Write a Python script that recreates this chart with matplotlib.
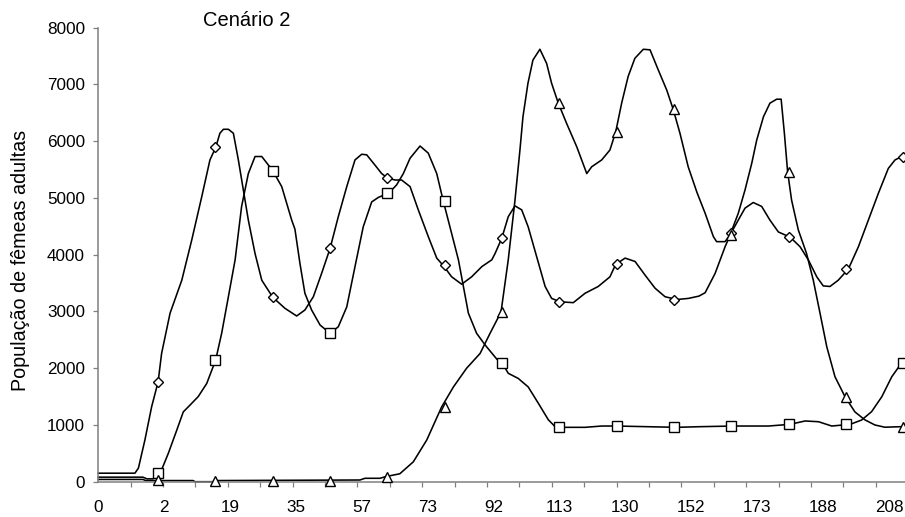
import matplotlib
matplotlib.use('Agg')
import matplotlib.pyplot as plt
import numpy as np

plt.rcParams['font.family'] = ['Liberation Sans', 'DejaVu Sans']

# ---- data (category position, population) ----
x_labels = ['0', '2', '19', '35', '57', '73', '92', '113', '130', '152', '173', '188', '208']

A_x = [0, 14.7, 16.1, 18.7, 21.4, 24, 25.4, 28.8, 33.5, 37.5, 41.5, 44.8, 47.1, 48.8, 50.2, 52.2, 54.2,
       56.2, 58.2, 60.2, 62.9, 65.6, 70, 74.9, 79.6, 82.9, 86.3, 89.6, 93, 96.3, 99.7, 103, 105.7, 107.7,
       111, 113.7, 116.1, 119.1, 121.7, 125.1, 128.4, 132.4, 135.8, 138.4, 141.8, 145.8, 149.8, 153.9,
       157.9, 159.2, 161.9, 164.5, 167.2, 169.9, 172.5, 175.9, 179.3, 181.9, 185.3, 190.6, 195.3, 200.6,
       205.3, 207.6, 211.4, 215.4, 219.4, 223.4, 227.4, 232.1, 236.8, 241, 243.5, 247.5, 251.5, 253.9,
       256.8, 259.5, 262.8, 266.2, 269.5, 272.9, 277.6, 281.6, 284.9, 288.3, 290.9, 293.6, 296.9, 301,
       305, 309, 313, 317, 319.7, 322.4, 323.7]
A_y = [150, 150, 240, 735, 1320, 1760, 2260, 2970, 3550, 4260, 5020, 5670, 5890, 6140, 6210, 6210, 6140,
       5670, 5140, 4610, 4020, 3550, 3250, 3055, 2920, 3025, 3260, 3670, 4110, 4670, 5200, 5670, 5770, 5760,
       5580, 5430, 5350, 5316, 5316, 5200, 4790, 4320, 3940, 3810, 3610, 3480, 3610, 3790,
       3910, 4020, 4290, 4670, 4860, 4790, 4490, 3965, 3440, 3230, 3170, 3155, 3320, 3440,
       3610, 3830, 3940, 3880, 3640, 3410, 3260, 3210, 3230, 3270, 3330, 3670, 4140, 4380,
       4610, 4820, 4920, 4850, 4610, 4400, 4310, 4140, 3910, 3610, 3450, 3440, 3550, 3750,
       4140, 4610, 5080, 5520, 5670, 5730, 5740]

B_x = [0, 17.9, 19.5, 22, 24, 25.4, 28.1, 31.5, 34.1, 36.8, 40.1, 43.5, 47.1, 49.5, 52.2, 54.9, 57.5,
       60.2, 62.9, 65.6, 70, 73.6, 77.6, 78.9, 80.9, 82.9, 85.6, 89, 93, 96.3, 99.7, 103, 106.3, 109.7,
       112.4, 116.7, 119.7, 122.4, 125.1, 129.1, 132.4, 135.8, 138.4, 141.1, 144.5, 146.5, 148.5, 151.8,
       155.2, 159.9, 162, 164.5, 168.5, 172.5, 176.6, 180.6, 183.3, 185.9, 195.3, 202, 208, 220.7, 232.1,
       241, 254.8, 268.9, 277.6, 283.6, 289, 294.3, 301.7, 306.3, 310.3, 314.4, 318.4, 322.4, 323.7]
B_y = [80, 80, 50, 50, 150, 210, 500, 910, 1230, 1350, 1500, 1730, 2145, 2615, 3260, 3910, 4850,
       5430, 5730, 5730, 5480, 5200, 4610, 4450, 3850, 3320, 3025, 2760, 2615, 2730, 3080, 3790, 4490, 4930,
       5010, 5090, 5230, 5430, 5700, 5915, 5790, 5430, 4950, 4490, 3910, 3440, 2970, 2615,
       2410, 2160, 2097, 1910, 1820, 1670, 1380, 1090, 970, 958, 958, 981, 981, 969, 958,
       969, 981, 981, 1011, 1070, 1057, 981, 1011, 1087, 1234, 1498, 1850, 2097, 2150]

C_x = [0, 17.9, 19, 38, 38.8, 46, 47.2, 105, 107, 113, 115.4, 121, 126.4, 131.8, 137.8, 142.5, 147.8,
       153.2, 157.2, 161.6, 164.5, 167.2, 169.2, 170.4, 172.4, 174.4, 177.2, 179.9, 181.9, 184.5, 187.9,
       192, 196, 198, 202, 205.3, 207.6, 210, 212.6, 215.3, 218.7, 221.4, 224.7, 228.1, 230.7, 233.4,
       236.7, 240.2, 243.5, 246.8, 248.1, 251.5, 253.5, 256.8, 259.5, 262.2, 264.2, 266.9, 269.5, 272.2,
       274, 275.3, 276.6, 278.2, 280.9, 284.2, 286.9, 289.6, 292.3, 295.6, 299.6, 303.6, 307.6, 311.6,
       315.6, 322.4, 323.7]
C_y = [40, 40, 20, 20, 0, 0, 20, 30, 60, 60, 90, 140, 350, 735, 1320, 1670, 2000,
       2260, 2615, 2990, 3910, 4960, 5850, 6430, 7020, 7430, 7620, 7370, 7020, 6680, 6315,
       5900, 5430, 5550, 5670, 5845, 6160, 6670, 7140, 7460, 7620, 7610, 7255, 6900, 6560, 6140,
       5550, 5100, 4730, 4320, 4230, 4230, 4350, 4730, 5140, 5610, 6020, 6430, 6670, 6740,
       6740, 6140, 5460, 4960, 4435, 4020, 3550, 2970, 2380, 1850, 1500, 1230, 1090, 1000,
       960, 970, 970]

mk_x = [24, 47, 70, 93, 116, 139, 162, 185, 208, 231, 254, 277, 300, 323]
A_mk = [1760, 5890, 3250, 4110, 5350, 3810, 4290, 3170, 3830, 3210, 4380, 4310, 3750, 5730]
B_mk = [150, 2145, 5480, 2615, 5090, 4950, 2097, 958, 981, 958, 981, 1011, 1011, 2097]
C_mk = [30, 20, 20, 20, 90, 1320, 2990, 6680, 6160, 6560, 4350, 5460, 1500, 970]

# ---- figure ----
W, H = 905, 517
fig = plt.figure(figsize=(W / 100, H / 100), dpi=100)
ax = fig.add_axes([98.3 / W, 1 - 481.7 / H, (W - 98.3) / W, (481.7 - 27.7) / H])

lw = 1.15
for xs, ys in [(A_x, A_y), (B_x, B_y), (C_x, C_y)]:
    ax.plot(xs, ys, color='black', lw=lw, clip_on=False, solid_joinstyle='round')

mkw = dict(ls='none', mfc='white', mec='black', mew=1.0, clip_on=False, zorder=3)
ax.plot(mk_x, A_mk, marker='D', ms=4.9, **mkw)
ax.plot(mk_x, B_mk, marker='s', ms=6.8, **mkw)
ax.plot(mk_x, C_mk, marker='^', ms=7.5, **mkw)

ax.set_xlim(0, 323.7)
ax.set_ylim(0, 8000)

ax.set_yticks(range(0, 8001, 1000))
ax.tick_params(axis='y', length=3.6, width=0.9, color='#808080', pad=6, labelsize=12.3)

ax.set_xticks(np.arange(len(x_labels)) * 26.44)
ax.set_xticklabels(x_labels)
ax.tick_params(axis='x', which='major', length=0, pad=13.5, labelsize=12.3)
ax.set_xticks(np.arange(0, 324, 13), minor=True)
ax.tick_params(axis='x', which='minor', length=3.3, width=0.9, color='#808080')

for s in ['top', 'right']:
    ax.spines[s].set_visible(False)
for s in ['left', 'bottom']:
    ax.spines[s].set_color('#808080')
    ax.spines[s].set_linewidth(1.1)

fig.text(203 / W, 1 - 20 / H, 'Cenário 2', fontsize=14.5, ha='left', va='center')
fig.text(21 / W, 1 - 260 / H, 'População de fêmeas adultas', rotation=90,
         fontsize=14.2, ha='center', va='center')

fig.savefig('out.png', dpi=100)
